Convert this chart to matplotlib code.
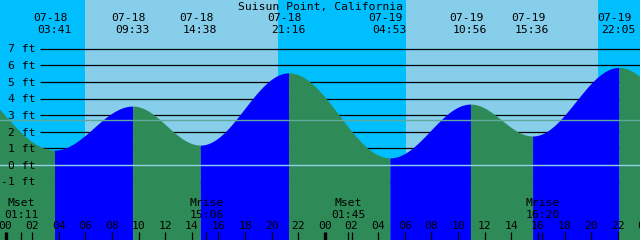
import matplotlib
matplotlib.use("Agg")
import numpy as np
import matplotlib.pyplot as plt

# ---------------- data ----------------
title = "Suisun Point, California"

tide_dates = ["07-18", "07-18", "07-18", "07-18", "07-19", "07-19", "07-19", "07-19"]
tide_clock = ["03:41", "09:33", "14:38", "21:16", "04:53", "10:56", "15:36", "22:05"]
tide_heights = [0.9, 3.55, 1.2, 5.55, 0.43, 3.67, 1.75, 5.88]

# extremes just outside the visible window (shape the curve at the edges)
edge_dates = ["07-17", "07-20"]
edge_clock = ["20:00", "05:50"]
edge_heights = [5.3, 0.2]

sun_dates = ["07-18", "07-18", "07-19", "07-19"]
sun_clock = ["05:58", "20:27", "06:04", "20:29"]   # rise, set, rise, set

moon_names = ["Mset", "Mrise", "Mset", "Mrise"]
moon_dates = ["07-18", "07-18", "07-19", "07-19"]
moon_clock = ["01:11", "15:06", "01:45", "16:20"]

ft_levels = [-1, 0, 1, 2, 3, 4, 5, 6, 7]
msl_ft = 2.69
hour_ticks = list(range(0, 50, 2))

# ---------------- helpers ----------------
PX_PER_HR = 13.31
X0_PX = 5.5          # pixel of 07-18 00:00
PX_PER_FT = 16.6
Y0_PX = 165.0        # pixel of 0 ft
W, H = 640, 240


def to_hours(date, clock):
    d = int(date.split("-")[1]) - 18
    hh, mm = clock.split(":")
    return d * 24 + int(hh) + int(mm) / 60.0


def fx(px):
    return (px - X0_PX) / PX_PER_HR


def fy(py):
    return (Y0_PX - py) / PX_PER_FT


xmin, xmax = fx(0), fx(W)
ymin, ymax = fy(H), fy(0)

ext_t = [to_hours(edge_dates[0], edge_clock[0])] + \
        [to_hours(d, c) for d, c in zip(tide_dates, tide_clock)] + \
        [to_hours(edge_dates[1], edge_clock[1])]
ext_h = [edge_heights[0]] + tide_heights + [edge_heights[1]]

# ---------------- figure ----------------
fig = plt.figure(figsize=(6.4, 2.4), dpi=100)
ax = fig.add_axes([0, 0, 1, 1])
ax.set_xlim(xmin, xmax)
ax.set_ylim(ymin, ymax)
ax.axis("off")

DAY = "#87CEEB"
NIGHT = "#00BFFF"
RISE = "#0000FF"
FALL = "#2E8B57"

sun_t = [to_hours(d, c) for d, c in zip(sun_dates, sun_clock)]
bounds = [xmin] + sun_t + [xmax]
for i in range(len(bounds) - 1):
    ax.axvspan(bounds[i], bounds[i + 1], color=NIGHT if i % 2 == 0 else DAY,
               lw=0, zorder=0)

# black level lines (behind water)
for lv in ft_levels:
    ax.plot([fx(39.5), xmax], [lv, lv], color="black", lw=0.9, zorder=1,
            solid_capstyle="butt")

# water
for i in range(len(ext_t) - 1):
    t0, t1 = ext_t[i], ext_t[i + 1]
    h0, h1 = ext_h[i], ext_h[i + 1]
    t = np.linspace(t0, t1, 200)
    h = h0 + (h1 - h0) * (1 - np.cos(np.pi * (t - t0) / (t1 - t0))) / 2
    ax.fill_between(t, ymin - 1, h, color=RISE if h1 > h0 else FALL,
                    lw=0, zorder=2)

# datum and mean sea level lines
ax.axhline(0, color="#8fd0e6", lw=1.0, zorder=3)
ax.axhline(msl_ft, color="#5ea89c", lw=1.0, zorder=3)

font = dict(family="DejaVu Sans Mono", size=8.2, color="black", zorder=5)

# title
ax.text(fx(320), fy(10), title, ha="center", va="baseline", **font)

# tide event labels
for d, c in zip(tide_dates, tide_clock):
    t = to_hours(d, c)
    ax.text(t - 4 / PX_PER_HR, fy(21), d, ha="center", va="baseline", **font)
    ax.text(t - 0.5 / PX_PER_HR, fy(33.3), c, ha="center", va="baseline", **font)

# level labels
for lv in ft_levels:
    ax.text(fx(35.5), lv - 3.7 / PX_PER_FT, f"{lv} ft", ha="right",
            va="baseline", **font)

# moon events
for n, d, c in zip(moon_names, moon_dates, moon_clock):
    t = to_hours(d, c)
    ax.text(t, fy(205.7), n, ha="center", va="baseline", **font)
    ax.text(t, fy(217.7), c, ha="center", va="baseline", **font)
    ax.plot([t, t], [fy(240.5), fy(232)], color="black", lw=0.9, zorder=5,
            solid_capstyle="butt")

# hour ticks and labels
for hr in hour_ticks:
    lab = f"{hr % 24:02d}"
    ax.text(hr, fy(229.3), lab, ha="center", va="baseline", clip_on=False, **font)
    thick = (hr % 24 == 0)
    ax.plot([hr, hr], [fy(240.5), fy(232)], color="black",
            lw=2.4 if thick else 0.9, zorder=5, solid_capstyle="butt")

fig.savefig("out.png", dpi=100)
